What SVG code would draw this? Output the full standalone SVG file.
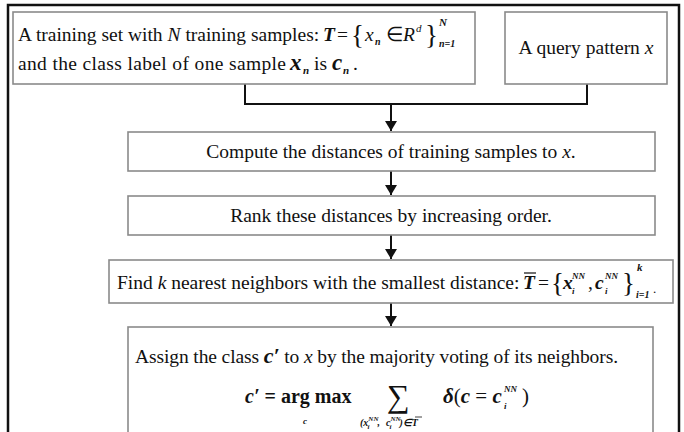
<svg xmlns="http://www.w3.org/2000/svg" width="684" height="432" viewBox="0 0 684 432">
<style>
text{font-family:"Liberation Serif","Times New Roman",serif;fill:#111;font-size:19.5px}
.box{fill:#fff;stroke:#8a8a8a;stroke-width:1.6}
.it{font-style:italic}
.bi{font-style:italic;font-weight:bold}
.br{font-size:27px}
.con{fill:none;stroke:#111;stroke-width:2}
</style>
<defs>
<marker id="ah" markerWidth="12" markerHeight="12" refX="10" refY="6" orient="auto" markerUnits="userSpaceOnUse">
<path d="M0,0 L10,6 L0,12 z" fill="#111"/>
</marker>
</defs>
<rect x="8" y="5" width="671" height="440" fill="#fff" stroke="#111" stroke-width="2.5"/>

<g id="connectors">
<polyline class="con" points="245,84 245,104 587,104 587,84"/>
<line class="con" x1="391" y1="104" x2="391" y2="131" marker-end="url(#ah)"/>
<line class="con" x1="391" y1="171" x2="391" y2="195" marker-end="url(#ah)"/>
<line class="con" x1="391" y1="235" x2="391" y2="259" marker-end="url(#ah)"/>
<line class="con" x1="391" y1="303" x2="391" y2="326" marker-end="url(#ah)"/>
</g>

<g id="training-set">
<rect class="box" x="13" y="12" width="462" height="72"/>
<text x="18" y="41">A training set with <tspan class="it">N</tspan> training samples:</text>
<text x="323" y="41" class="bi">T</text>
<text x="337" y="41">=</text>
<text x="351" y="44" class="br">{</text>
<text x="365" y="41" class="it">x</text>
<text x="375" y="45" class="bi" style="font-size:10px">n</text>
<text x="386" y="41">∈</text>
<text x="403" y="41" class="it">R</text>
<text x="416" y="32" class="it" style="font-size:11px">d</text>
<text x="425" y="44" class="br">}</text>
<text x="439" y="26" class="bi" style="font-size:11px">N</text>
<text x="439" y="47" class="bi" style="font-size:10px">n=1</text>
<text x="18" y="70" textLength="268" lengthAdjust="spacing">and the class label of one sample</text>
<text x="290" y="70" class="bi" style="font-size:23px">x</text>
<text x="303" y="74" class="bi" style="font-size:11px">n</text>
<text x="314" y="70">is</text>
<text x="332" y="70" class="bi" style="font-size:23px">c</text>
<text x="343" y="74" class="bi" style="font-size:11px">n</text>
<text x="353" y="70">.</text>
</g>

<g id="query">
<rect class="box" x="505" y="12" width="162" height="72"/>
<text x="586" y="54" text-anchor="middle">A query pattern <tspan class="it">x</tspan></text>
</g>

<g id="compute">
<rect class="box" x="128" y="132" width="527" height="39"/>
<text x="391" y="158" text-anchor="middle">Compute the distances of training samples to <tspan class="it">x</tspan>.</text>
</g>

<g id="rank">
<rect class="box" x="128" y="196" width="527" height="39"/>
<text x="391" y="222" text-anchor="middle">Rank these distances by increasing order.</text>
</g>

<g id="find">
<rect class="box" x="109" y="260" width="564" height="43"/>
<text x="117" y="289">Find <tspan class="it">k</tspan> nearest neighbors with the smallest distance:</text>
<text x="523" y="289" class="bi">T</text>
<line x1="524" y1="273" x2="536" y2="273" stroke="#111" stroke-width="1.2"/>
<text x="538" y="289">=</text>
<text x="551" y="292" class="br">{</text>
<text x="563" y="289" class="bi">x</text>
<text x="572" y="279" class="bi" style="font-size:9px">NN</text>
<text x="572" y="294" class="bi" style="font-size:9px">i</text>
<text x="588" y="289">,</text>
<text x="595" y="289" class="bi">c</text>
<text x="605" y="279" class="bi" style="font-size:9px">NN</text>
<text x="605" y="294" class="bi" style="font-size:9px">i</text>
<text x="622" y="292" class="br">}</text>
<text x="637" y="271" class="bi" style="font-size:11px">k</text>
<text x="636" y="298" class="bi" style="font-size:10px">i=1</text>
<text x="653" y="293" style="font-size:13px">.</text>
</g>

<g id="assign">
<rect class="box" x="128" y="327" width="525" height="120"/>
<text x="135" y="363" textLength="483" lengthAdjust="spacing">Assign the class <tspan class="bi" style="font-size:22px">c′</tspan> to <tspan class="it">x</tspan> by the majority voting of its neighbors.</text>
<text x="245" y="403" style="font-size:20px;font-weight:bold"><tspan class="bi">c′</tspan> = arg max</text>
<text x="303" y="424" class="bi" style="font-size:9px">c</text>
<text x="387" y="407" style="font-size:32px">∑</text>
<text x="360" y="426" class="bi" style="font-size:10px">(x<tspan dy="-5" style="font-size:7px">NN</tspan><tspan dx="-11" dy="8" style="font-size:7px">i</tspan><tspan dx="8" dy="-3">,</tspan><tspan dx="6">c</tspan><tspan dy="-5" style="font-size:7px">NN</tspan><tspan dx="-11" dy="8" style="font-size:7px">i</tspan><tspan dx="8" dy="-3">)∈T</tspan></text>
<line x1="415" y1="417" x2="422" y2="417" stroke="#111" stroke-width="0.8"/>
<text x="443" y="403" style="font-size:21px"><tspan class="bi">δ</tspan>(<tspan class="bi">c</tspan> = <tspan class="bi">c</tspan></text>
<text x="504" y="392" class="bi" style="font-size:9px">NN</text>
<text x="504" y="409" class="bi" style="font-size:9px">i</text>
<text x="522" y="403" style="font-size:21px">)</text>
</g>
</svg>
